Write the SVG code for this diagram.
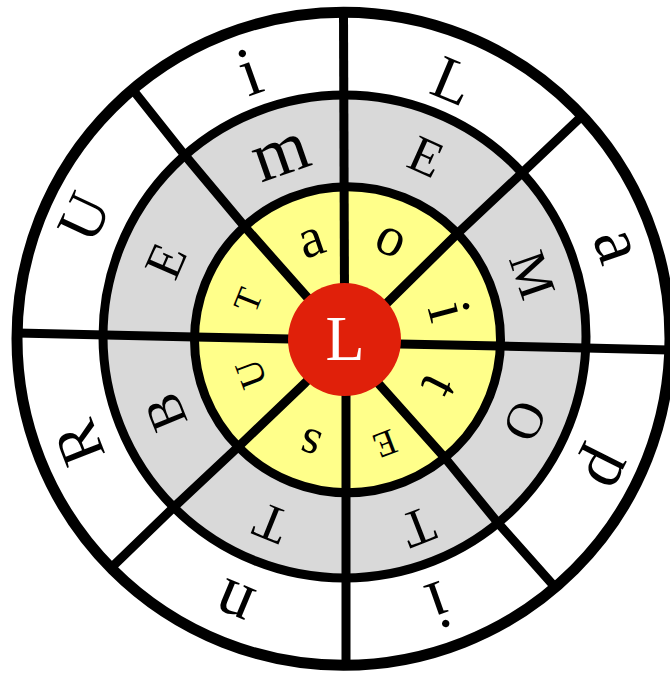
<svg xmlns="http://www.w3.org/2000/svg" width="670" height="673" viewBox="0 0 670 673">
<style>
.ring{stroke:#000;fill:none}
.rad{stroke:#000;stroke-width:9;fill:none;stroke-linejoin:round}
.t{font-family:'Liberation Serif','Times New Roman',Times,serif;text-anchor:middle;fill:#000}
</style>
<rect width="670" height="673" fill="#fff"/>
<g id="fills">
<circle cx="343.5" cy="338.75" r="326.5" fill="#fff"/>
<circle cx="344.5" cy="336.5" r="241.5" fill="#d9d9d9"/>
<circle cx="347.5" cy="339.75" r="153" fill="#ffff8a"/>
</g>
<g id="connectors">
<polyline class="rad" points="343.5,14 344.5,300"/>
<polyline class="rad" points="582,116 523,172 458,233 388,302 365,324"/>
<polyline class="rad" points="669,350 586,348 500,346 400,344 370,343"/>
<polyline class="rad" points="554,586 498,523 445,458 378,383 360,363"/>
<polyline class="rad" points="346,665 346,380"/>
<polyline class="rad" points="111,568 173,508 237,448 305,383 325,362"/>
<polyline class="rad" points="17,333 195,337 290,339 320,340"/>
<polyline class="rad" points="133,90 183,153 245,227 307,297 325,318"/>
</g>
<g id="rings">
<circle class="ring" cx="343.5" cy="338.75" r="326.5" stroke-width="11"/>
<circle class="ring" cx="344.5" cy="336.5" r="241.5" stroke-width="9"/>
<circle class="ring" cx="347.5" cy="339.75" r="153" stroke-width="9"/>
</g>
<g id="center">
<circle cx="344.5" cy="339.5" r="56.5" fill="#e0200a"/>
<text class="t" transform="translate(345,339)" y="21" font-size="64" style="fill:#fff">L</text>
</g>
<g id="outer-letters" font-family="Liberation Serif">
<text class="t" transform="translate(249,71) rotate(-19.7)" y="24" font-size="70">i</text>
<text class="t" transform="translate(453,81) rotate(22.7)" y="20.5" font-size="62">L</text>
<text class="t" transform="translate(613,247) rotate(71)" y="16.5" font-size="72">a</text>
<text class="t" transform="translate(598,465) rotate(116.5)" y="8" font-size="70">p</text>
<text class="t" transform="translate(439,606) rotate(160.6)" y="24" font-size="70">i</text>
<text class="t" transform="translate(236,599) rotate(202.7)" y="16" font-size="70">n</text>
<text class="t" transform="translate(79,443) rotate(248.6)" y="20.5" font-size="62">R</text>
<text class="t" transform="translate(84,217) rotate(-64.9)" y="20.5" font-size="62">U</text>
</g>
<g id="middle-letters">
<text class="t" transform="translate(282,158) rotate(-19.2)" y="16.5" font-size="72">m</text>
<text class="t" transform="translate(426,157) rotate(24)" y="17" font-size="52">E</text>
<text class="t" transform="translate(532,275) rotate(71)" y="17" font-size="52">M</text>
<text class="t" transform="translate(525,421) rotate(114.5)" y="17" font-size="52">O</text>
<text class="t" transform="translate(418,527) rotate(158.8)" y="17" font-size="52">T</text>
<text class="t" transform="translate(271,523) rotate(201.9)" y="17" font-size="52">T</text>
<text class="t" transform="translate(166,412) rotate(247.8)" y="17" font-size="52">B</text>
<text class="t" transform="translate(166,261) rotate(-66.5)" y="17" font-size="52">E</text>
</g>
<g id="inner-letters">
<text class="t" transform="translate(312,243) rotate(-19)" y="13" font-size="56">a</text>
<text class="t" transform="translate(390,242) rotate(24.9)" y="13" font-size="56">o</text>
<text class="t" transform="translate(450,311) rotate(75.1)" y="21" font-size="62">i</text>
<text class="t" transform="translate(439,386) rotate(116.6)" y="17" font-size="58">t</text>
<text class="t" transform="translate(385,444) rotate(159.1)" y="12" font-size="36">E</text>
<text class="t" transform="translate(311,441) rotate(198.4)" y="11.5" font-size="50">s</text>
<text class="t" transform="translate(251,374) rotate(249.6)" y="12.5" font-size="38">U</text>
<text class="t" transform="translate(248,300) rotate(-68)" y="12" font-size="36">T</text>
</g>
</svg>
